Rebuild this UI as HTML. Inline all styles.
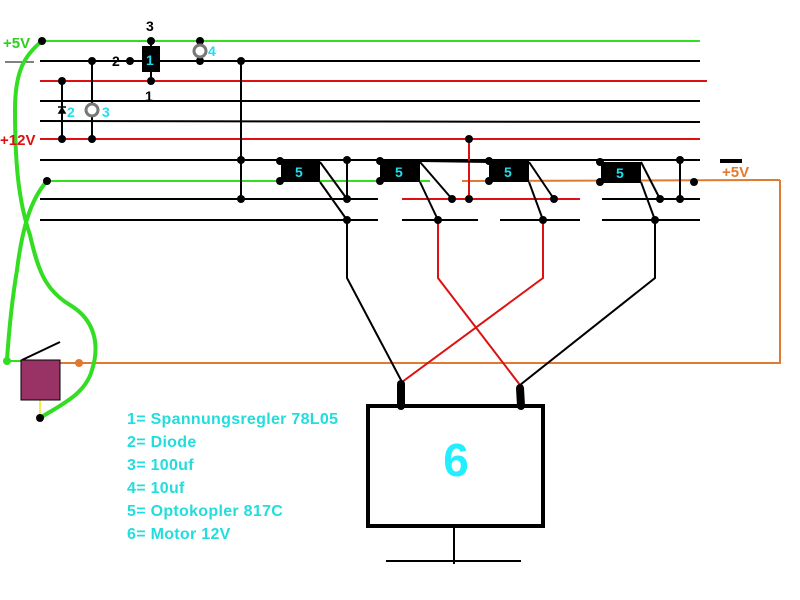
<!DOCTYPE html>
<html><head><meta charset="utf-8"><style>
html,body{margin:0;padding:0;background:#fff}
svg{display:block}
text{font-family:"Liberation Sans",sans-serif}
</style></head><body>
<svg width="800" height="600" viewBox="0 0 800 600" xmlns="http://www.w3.org/2000/svg">
<rect width="800" height="600" fill="#fff"/>
<g stroke-width="2" fill="none">
<line x1="42" y1="41" x2="700" y2="41" stroke="#33dd22"/>
<line x1="5" y1="62" x2="34" y2="62" stroke="#000" stroke-width="1"/>
<line x1="40" y1="61" x2="700" y2="61" stroke="#000"/>
<line x1="40" y1="81" x2="707" y2="81" stroke="#dd1111"/>
<line x1="40" y1="101" x2="700" y2="101" stroke="#000"/>
<line x1="40" y1="121" x2="700" y2="122" stroke="#000"/>
<line x1="40" y1="139" x2="700" y2="139" stroke="#dd1111"/>
<line x1="40" y1="160" x2="700" y2="160" stroke="#000"/>
<line x1="45" y1="181" x2="430" y2="181" stroke="#33dd22"/>
<line x1="462" y1="181" x2="780" y2="180" stroke="#e07a30"/>
<polyline points="780,180 780,363 60,363" stroke="#e07a30"/>
<line x1="40" y1="199" x2="378" y2="199" stroke="#000"/>
<line x1="402" y1="199" x2="580" y2="199" stroke="#dd1111"/>
<line x1="602" y1="199" x2="700" y2="199" stroke="#000"/>
<line x1="40" y1="220" x2="378" y2="220" stroke="#000"/>
<line x1="402" y1="220" x2="478" y2="220" stroke="#000"/>
<line x1="500" y1="220" x2="580" y2="220" stroke="#000"/>
<line x1="602" y1="220" x2="700" y2="220" stroke="#000"/>
<line x1="62" y1="81" x2="62" y2="139" stroke="#000"/>
<line x1="92" y1="61" x2="92" y2="139" stroke="#000"/>
<line x1="151" y1="41" x2="151" y2="81" stroke="#000"/>
<line x1="200" y1="41" x2="200" y2="61" stroke="#000"/>
<line x1="241" y1="61" x2="241" y2="199" stroke="#000"/>
<line x1="469" y1="139" x2="469" y2="199" stroke="#dd1111"/>
<line x1="347" y1="160" x2="347" y2="199" stroke="#000"/>
<line x1="680" y1="160" x2="680" y2="199" stroke="#000"/>
<g stroke="#000">
<line x1="320" y1="162" x2="347" y2="199"/><line x1="320" y1="182" x2="347" y2="220"/>
<line x1="420" y1="162" x2="452" y2="199"/><line x1="420" y1="182" x2="438" y2="220"/>
<line x1="529" y1="162" x2="554" y2="199"/><line x1="529" y1="182" x2="543" y2="220"/>
<line x1="641" y1="162" x2="660" y2="199"/><line x1="641" y1="182" x2="655" y2="220"/>
<line x1="420" y1="161" x2="489" y2="162"/>
</g>
<polyline points="347,220 347,278 402,382" stroke="#000"/>
<polyline points="655,220 655,278 520,385" stroke="#000"/>
<polyline points="438,220 438,278 520,385" stroke="#dd1111"/>
<polyline points="543,220 543,278 402,382" stroke="#dd1111"/>
<path d="M42,41 C25,55 15,70 15,110 C15,160 18,200 30,235 C38,270 45,290 70,305 C95,320 100,345 92,370 C85,395 60,405 40,418" stroke="#33dd22" stroke-width="4"/>
<path d="M47,181 C30,200 22,230 17,270 C12,300 9,330 7,360" stroke="#33dd22" stroke-width="4"/>
<line x1="7" y1="361" x2="22" y2="361" stroke="#33dd22"/>
<line x1="40" y1="400" x2="40" y2="417" stroke="#eeee55"/>
<line x1="22" y1="360" x2="60" y2="342" stroke="#000"/>
<rect x="368" y="406" width="175" height="120" stroke="#000" stroke-width="4"/>
<line x1="454" y1="527" x2="454" y2="564" stroke="#000"/>
<line x1="386" y1="561" x2="521" y2="561" stroke="#000"/>
<line x1="401" y1="384" x2="401" y2="406" stroke="#000" stroke-width="8" stroke-linecap="round"/>
<line x1="520" y1="388" x2="521" y2="406" stroke="#000" stroke-width="8" stroke-linecap="round"/>
<line x1="720" y1="161" x2="742" y2="161" stroke="#000" stroke-width="4"/>
</g>
<rect x="21" y="360" width="39" height="40" fill="#993366" stroke="#000" stroke-width="1"/>
<g fill="#000">
<rect x="281" y="161" width="39" height="21"/>
<rect x="380" y="161" width="40" height="21"/>
<rect x="489" y="161" width="40" height="21"/>
<rect x="601" y="162" width="40" height="21"/>
<rect x="142" y="46" width="18" height="26"/>
</g>
<g fill="#000">
<circle cx="42" cy="41" r="4"/><circle cx="47" cy="181" r="4"/>
<circle cx="62" cy="81" r="4"/><circle cx="62" cy="139" r="4"/>
<circle cx="92" cy="61" r="4"/><circle cx="92" cy="139" r="4"/>
<circle cx="151" cy="41" r="4"/><circle cx="151" cy="81" r="4"/><circle cx="130" cy="61" r="4"/>
<circle cx="200" cy="41" r="4"/><circle cx="200" cy="61" r="4"/>
<circle cx="241" cy="61" r="4"/><circle cx="241" cy="160" r="4"/><circle cx="241" cy="199" r="4"/>
<circle cx="280" cy="161" r="4"/><circle cx="280" cy="181" r="4"/>
<circle cx="347" cy="160" r="4"/><circle cx="347" cy="199" r="4"/><circle cx="347" cy="220" r="4"/>
<circle cx="380" cy="161" r="4"/><circle cx="380" cy="181" r="4"/>
<circle cx="452" cy="199" r="4"/><circle cx="438" cy="220" r="4"/>
<circle cx="469" cy="139" r="4"/><circle cx="469" cy="199" r="4"/>
<circle cx="489" cy="161" r="4"/><circle cx="489" cy="181" r="4"/>
<circle cx="554" cy="199" r="4"/><circle cx="543" cy="220" r="4"/>
<circle cx="600" cy="162" r="4"/><circle cx="600" cy="182" r="4"/>
<circle cx="680" cy="160" r="4"/><circle cx="680" cy="199" r="4"/>
<circle cx="660" cy="199" r="4"/><circle cx="655" cy="220" r="4"/>
<circle cx="694" cy="182" r="4"/><circle cx="40" cy="418" r="4"/>
</g>
<circle cx="7" cy="361" r="4" fill="#33dd22"/>
<circle cx="79" cy="363" r="4" fill="#e07a30"/>
<g fill="#fff" stroke="#777" stroke-width="3">
<circle cx="92" cy="110" r="6"/><circle cx="200" cy="51" r="6"/>
</g>
<path d="M58,107 L66,107 M59,113 L62,108 L65,113 Z" stroke="#000" stroke-width="1.5" fill="#000"/>
<g font-size="15" font-weight="bold">
<text x="3" y="48" fill="#33cc22">+5V</text>
<text x="0" y="145" fill="#dd1111">+12V</text>
<text x="722" y="177" fill="#e07a30">+5V</text>
</g>
<g font-size="14" font-weight="bold">
<text x="146" y="31" fill="#000">3</text>
<text x="112" y="66" fill="#000">2</text>
<text x="145" y="101" fill="#000">1</text>
<text x="146" y="65" fill="#22ddee">1</text>
<text x="67" y="117" fill="#22ddee">2</text>
<text x="102" y="117" fill="#22ddee">3</text>
<text x="208" y="56" fill="#22ddee">4</text>
<text x="295" y="177" fill="#22ddee">5</text>
<text x="395" y="177" fill="#22ddee">5</text>
<text x="504" y="177" fill="#22ddee">5</text>
<text x="616" y="178" fill="#22ddee">5</text>
</g>
<text x="456" y="476" font-size="46" font-weight="bold" fill="#22eeff" text-anchor="middle">6</text>
<g font-size="16" font-weight="bold" fill="#22dddd" letter-spacing="0.3">
<text x="127" y="424">1= Spannungsregler 78L05</text>
<text x="127" y="447">2= Diode</text>
<text x="127" y="470">3= 100uf</text>
<text x="127" y="493">4= 10uf</text>
<text x="127" y="516">5= Optokopler 817C</text>
<text x="127" y="539">6= Motor 12V</text>
</g>
</svg>
</body></html>
